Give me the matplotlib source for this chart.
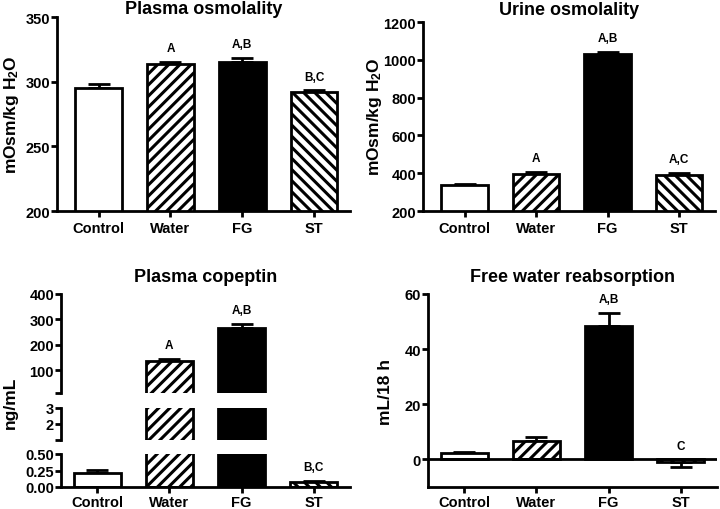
import numpy as np
import matplotlib
matplotlib.use('Agg')
import matplotlib.pyplot as plt

plt.rcParams['font.family'] = ['Liberation Sans', 'DejaVu Sans']
plt.rcParams['font.weight'] = 'bold'
plt.rcParams['mathtext.fontset'] = 'custom'
plt.rcParams['mathtext.rm'] = 'Liberation Sans:bold'
plt.rcParams['mathtext.default'] = 'rm'
plt.rcParams['hatch.linewidth'] = 2.2

groups = ['Control', 'Water', 'FG', 'ST']
hatches = ['', '///', '', '\\\\\\']
fills = ['white', 'white', 'black', 'white']

plasma_osm = [295, 314, 315, 292]
plasma_osm_err = [3, 1.5, 3, 1.2]
plasma_osm_sig = ['', 'A', 'A,B', 'B,C']

urine_osm = [336, 395, 1030, 390]
urine_osm_err = [6, 10, 12, 10]
urine_osm_sig = ['', 'A', 'A,B', 'A,C']

copeptin = [0.21, 138, 265, 0.07]
copeptin_err = [0.05, 6, 17, 0.025]
copeptin_sig = ['', 'A', 'A,B', 'B,C']

free_water = [2.2, 6.8, 48.5, -0.8]
free_water_err = [0.4, 1.2, 4.5, 2.0]
free_water_sig = ['', '', 'A,B', 'C']

LW = 2.0
TICK_FS = 10.5
W = 0.65
x = np.arange(len(groups))


def style_axis(ax, xlim, show_x=True, xpad=3):
    for s in ['top', 'right']:
        ax.spines[s].set_visible(False)
    for s in ['left', 'bottom']:
        ax.spines[s].set_linewidth(LW)
    ax.tick_params(axis='y', direction='out', length=4, width=LW, pad=1,
                   labelsize=TICK_FS)
    ax.tick_params(axis='x', direction='out', length=4, width=LW, pad=xpad,
                   labelsize=TICK_FS)
    ax.set_xlim(*xlim)
    if show_x:
        ax.set_xticks(x)
        ax.set_xticklabels(groups, fontweight='bold')
    else:
        ax.spines['bottom'].set_visible(False)
        ax.set_xticks([])
    for lab in ax.get_yticklabels():
        lab.set_fontweight('bold')


def draw_bars(ax, vals, errs):
    # error bars only point away from zero
    lower = [e if v < 0 else 0 for v, e in zip(vals, errs)]
    upper = [0 if v < 0 else e for v, e in zip(vals, errs)]
    ax.errorbar(x, vals, yerr=[lower, upper], fmt='none', ecolor='black',
                elinewidth=LW, capsize=8, capthick=LW, zorder=1)
    for i in range(len(groups)):
        ax.bar(x[i], vals[i], width=W, color=fills[i], edgecolor='black',
               linewidth=LW, hatch=hatches[i], zorder=2)


def annotate(ax, vals, errs, sig):
    for i, s in enumerate(sig):
        if not s:
            continue
        top = vals[i] + errs[i] if vals[i] >= 0 else 0
        ax.annotate(s, (x[i], top), xytext=(0, 10), textcoords='offset points',
                    ha='center', va='center', fontsize=8.5, fontweight='bold')


fig = plt.figure(figsize=(7.2, 5.1), dpi=100)

# Plasma osmolality
ax1 = fig.add_axes([57 / 720, 1 - 212 / 510, 293 / 720, 194 / 510])
draw_bars(ax1, plasma_osm, plasma_osm_err)
ax1.set_ylim(200, 350)
ax1.set_yticks([200, 250, 300, 350])
style_axis(ax1, (-0.58, 3.5))
annotate(ax1, plasma_osm, plasma_osm_err, plasma_osm_sig)
ax1.set_title('Plasma osmolality', fontsize=13, fontweight='bold', pad=2)
fig.text(12 / 720, 1 - 115 / 510, 'mOsm/kg H$_2$O', rotation=90,
         ha='center', va='center', fontsize=12.5, fontweight='bold')

# Urine osmolality
ax2 = fig.add_axes([423 / 720, 1 - 212 / 510, 292 / 720, 189 / 510])
draw_bars(ax2, urine_osm, urine_osm_err)
ax2.set_ylim(200, 1200)
ax2.set_yticks(range(200, 1201, 200))
style_axis(ax2, (-0.58, 3.5))
annotate(ax2, urine_osm, urine_osm_err, urine_osm_sig)
ax2.set_title('Urine osmolality', fontsize=13, fontweight='bold', pad=6)
fig.text(374 / 720, 1 - 117 / 510, 'mOsm/kg H$_2$O', rotation=90,
         ha='center', va='center', fontsize=12.5, fontweight='bold')

# Plasma copeptin, broken y axis in three segments
seg_top = fig.add_axes([61 / 720, 1 - 394 / 510, 289 / 720, 99 / 510])
seg_mid = fig.add_axes([61 / 720, 1 - 441 / 510, 289 / 720, 32 / 510])
seg_low = fig.add_axes([61 / 720, 1 - 488 / 510, 289 / 720, 33 / 510])
for ax in (seg_top, seg_mid, seg_low):
    draw_bars(ax, copeptin, copeptin_err)
seg_top.set_ylim(10, 400)
seg_top.set_yticks([10, 100, 200, 300, 400])
seg_top.set_yticklabels(['', '100', '200', '300', '400'])
seg_mid.set_ylim(1, 3)
seg_mid.set_yticks([1, 2, 3])
seg_mid.set_yticklabels(['', '2', '3'])
seg_low.set_ylim(0, 0.5)
seg_low.set_yticks([0, 0.25, 0.5])
seg_low.set_yticklabels(['0.00', '0.25', '0.50'])
style_axis(seg_top, (-0.5, 3.5), show_x=False)
style_axis(seg_mid, (-0.5, 3.5), show_x=False)
style_axis(seg_low, (-0.5, 3.5), xpad=2)
annotate(seg_top, copeptin, copeptin_err,
         [s if v > 1 else '' for s, v in zip(copeptin_sig, copeptin)])
annotate(seg_low, copeptin, copeptin_err,
         [s if v < 1 else '' for s, v in zip(copeptin_sig, copeptin)])
seg_top.set_title('Plasma copeptin', fontsize=13, fontweight='bold', pad=9)
fig.text(10 / 720, 1 - 403 / 510, 'ng/mL', rotation=90,
         ha='center', va='center', fontsize=12.5, fontweight='bold')

# Free water reabsorption
ax4 = fig.add_axes([428 / 720, 1 - 488 / 510, 289 / 720, 193 / 510])
draw_bars(ax4, free_water, free_water_err)
ax4.axhline(0, color='black', linewidth=LW, zorder=3)
ax4.set_ylim(-10, 60)
ax4.set_yticks([0, 20, 40, 60])
style_axis(ax4, (-0.5, 3.5), xpad=2)
annotate(ax4, free_water, free_water_err, free_water_sig)
ax4.set_title('Free water reabsorption', fontsize=13, fontweight='bold', pad=9)
fig.text(385 / 720, 1 - 392 / 510, 'mL/18 h', rotation=90,
         ha='center', va='center', fontsize=12.5, fontweight='bold')

fig.savefig('out.png', dpi=100)
